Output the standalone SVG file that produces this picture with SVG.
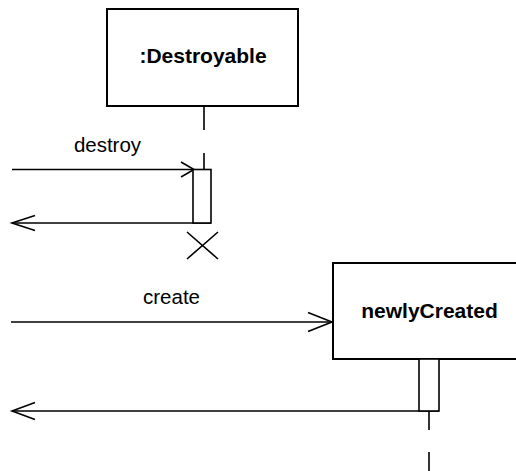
<svg xmlns="http://www.w3.org/2000/svg" width="516" height="471" viewBox="0 0 516 471">
  <style>
    .obj { fill: #fff; stroke: #000; stroke-width: 2; }
    .act { fill: #fff; stroke: #000; stroke-width: 1.6; }
    .ln { fill: none; stroke: #000; stroke-width: 1.6; }
    .life { fill: none; stroke: #000; stroke-width: 1.6; stroke-dasharray: 24 23; }
    .name { font-family: "Liberation Sans", Arial, sans-serif; font-size: 21px; font-weight: bold; text-anchor: middle; fill: #000; }
    .msg { font-family: "Liberation Sans", Arial, sans-serif; font-size: 20.5px; text-anchor: middle; fill: #000; }
  </style>
  <rect width="516" height="471" fill="#fff"/>

  <g id="connectors">
    <!-- lifelines -->
    <line class="life" x1="204" y1="106" x2="204" y2="169"/>
    <line class="life" x1="429" y1="411" x2="429" y2="471" style="stroke-dasharray: 19 22"/>
    <!-- destroy message -->
    <line class="ln" x1="12" y1="169.5" x2="193" y2="169.5"/>
    <polyline class="ln" points="181,162 194,169.5 181,177"/>
    <text class="msg" x="107.5" y="152">destroy</text>
    <!-- return from destroy -->
    <line class="ln" x1="12" y1="223" x2="211" y2="223"/>
    <polyline class="ln" points="35,215.5 12,223 35,230.5"/>
    <!-- create message -->
    <line class="ln" x1="11" y1="322" x2="333" y2="322"/>
    <polyline class="ln" points="308,312.5 332,322 308,331.5"/>
    <text class="msg" x="171.5" y="304">create</text>
    <!-- return from create -->
    <line class="ln" x1="12" y1="411" x2="439" y2="411"/>
    <polyline class="ln" points="35,402.5 12,411 35,419.5"/>
  </g>

  <g id="destroyable">
    <rect class="obj" x="107" y="9" width="191" height="97"/>
    <text class="name" x="203" y="63">:Destroyable</text>
    <rect class="act" x="193" y="169.5" width="18" height="53.5"/>
    <!-- destruction mark -->
    <path class="ln" d="M187,232 L218,259 M218,232 L187,259"/>
  </g>

  <g id="newlyCreated">
    <rect class="obj" x="333" y="263" width="190" height="96"/>
    <text class="name" x="429.5" y="318">newlyCreated</text>
    <rect class="act" x="419" y="359" width="20" height="52"/>
  </g>
</svg>
